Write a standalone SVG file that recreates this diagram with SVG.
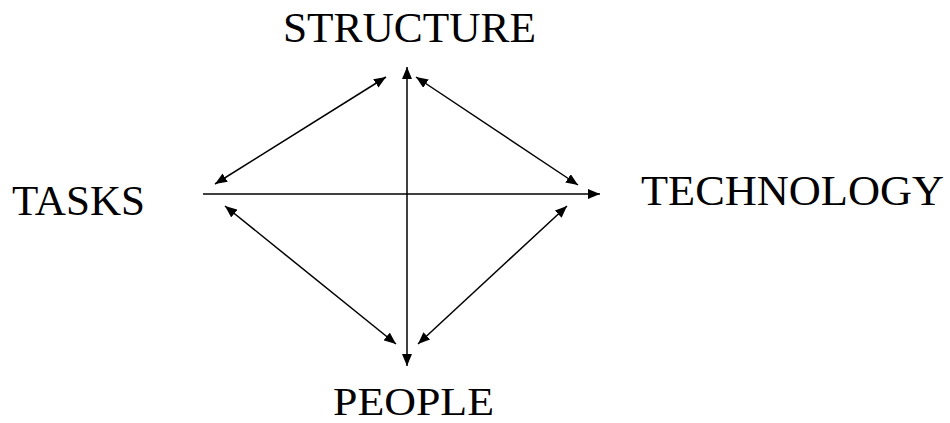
<svg xmlns="http://www.w3.org/2000/svg" width="950" height="423" viewBox="0 0 950 423">
<defs>
<style>
.lbl{font-family:"Liberation Serif","Times New Roman",serif;font-size:43px;fill:#000}
.ln{stroke:#000;stroke-width:1.5;fill:none}
</style>
<marker id="ah" viewBox="0 0 12 10" refX="12" refY="5" markerWidth="12" markerHeight="10" markerUnits="userSpaceOnUse" orient="auto-start-reverse">
<path d="M0,0 L12,5 L0,10 Z" fill="#000"/>
</marker>
</defs>
<rect width="950" height="423" fill="#fff"/>
<g id="connectors">
<line class="ln" x1="203" y1="194" x2="600" y2="194" marker-end="url(#ah)"/>
<line class="ln" x1="407" y1="67" x2="407" y2="366" marker-start="url(#ah)" marker-end="url(#ah)"/>
<line class="ln" x1="386" y1="77" x2="215" y2="184" marker-start="url(#ah)" marker-end="url(#ah)"/>
<line class="ln" x1="416" y1="77" x2="578" y2="185" marker-start="url(#ah)" marker-end="url(#ah)"/>
<line class="ln" x1="225" y1="206" x2="396" y2="344" marker-start="url(#ah)" marker-end="url(#ah)"/>
<line class="ln" x1="567" y1="206" x2="418" y2="344" marker-start="url(#ah)" marker-end="url(#ah)"/>
</g>
<g id="structure"><text class="lbl" x="283" y="42" textLength="253" lengthAdjust="spacingAndGlyphs">STRUCTURE</text></g>
<g id="tasks"><text class="lbl" x="12" y="215" textLength="133" lengthAdjust="spacingAndGlyphs">TASKS</text></g>
<g id="technology"><text class="lbl" x="641" y="205" textLength="303" lengthAdjust="spacingAndGlyphs">TECHNOLOGY</text></g>
<g id="people"><text class="lbl" x="333" y="415" style="font-size:40px" textLength="161" lengthAdjust="spacingAndGlyphs">PEOPLE</text></g>
</svg>
